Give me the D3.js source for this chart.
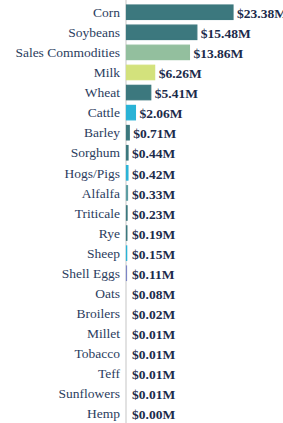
<!DOCTYPE html>
<html><head><meta charset="utf-8">
<script src="https://cdn.jsdelivr.net/npm/d3@7"></script>
</head><body>
<script>
const categories = ["Corn","Soybeans","Sales Commodities","Milk","Wheat","Cattle","Barley","Sorghum","Hogs/Pigs","Alfalfa","Triticale","Rye","Sheep","Shell Eggs","Oats","Broilers","Millet","Tobacco","Teff","Sunflowers","Hemp"];
const values = [23.38,15.48,13.86,6.26,5.41,2.06,0.71,0.44,0.42,0.33,0.23,0.19,0.15,0.11,0.08,0.02,0.01,0.01,0.01,0.01,0.00];
const colors = ["#3c787e","#3c787e","#93bf9e","#d3e27c","#3c787e","#2ab3d6","#3c787e","#3c787e","#2ab3d6","#5e9ea3","#3c787e","#3c787e","#2ab3d6","#7c86c6","#3c787e","#7c86c6","#3c787e","#9fd0b2","#3c787e","#3c787e","#3c787e"];

const W = 283, H = 423;
const FONT = "'Liberation Serif', Tinos, 'Times New Roman', 'DejaVu Serif'";
d3.select("body").style("margin", "0px").style("background", "#fff");
const svg = d3.select("body").append("svg").attr("width", W).attr("height", H).style("display", "block");
const x0 = 126;
const x = d3.scaleLinear().domain([0, 23.38]).range([x0, 233]);
const y = d3.scaleBand().domain(categories).range([3, 423]).paddingInner(0.28).paddingOuter(0.1);

svg.append("line").attr("x1", x0).attr("x2", x0).attr("y1", 0).attr("y2", H)
  .attr("stroke", "#d9d9d9").attr("stroke-width", 1.5);

svg.selectAll("rect.bar").data(categories).join("rect")
  .attr("class","bar")
  .attr("x", x0 + 0.5)
  .attr("y", d => y(d))
  .attr("width", (d,i) => Math.max(0, x(values[i]) - x0 - 0.5))
  .attr("height", y.bandwidth())
  .attr("fill", (d,i) => colors[i])
  .attr("stroke", (d,i) => colors[i])
  .attr("stroke-width", 1.2);

svg.selectAll("text.cat").data(categories).join("text")
  .attr("class","cat")
  .attr("x", 120)
  .attr("y", d => y(d) + y.bandwidth()/2)
  .attr("dy", "0.35em")
  .attr("text-anchor", "end")
  .style("font-family", FONT)
  .style("font-size", "13.5px")
  .attr("fill", "#2b3d5e")
  .text(d => d);

svg.selectAll("text.val").data(categories).join("text")
  .attr("class","val")
  .attr("x", (d,i) => Math.max(x(values[i]), x0 + 2) + 4)
  .attr("y", d => y(d) + y.bandwidth()/2 + 1)
  .attr("dy", "0.35em")
  .style("font-family", FONT)
  .style("font-weight", "bold")
  .style("font-size", "13.5px")
  .attr("fill", "#1c2b4b")
  .text((d,i) => "$" + values[i].toFixed(2) + "M");
</script>
</body></html>
